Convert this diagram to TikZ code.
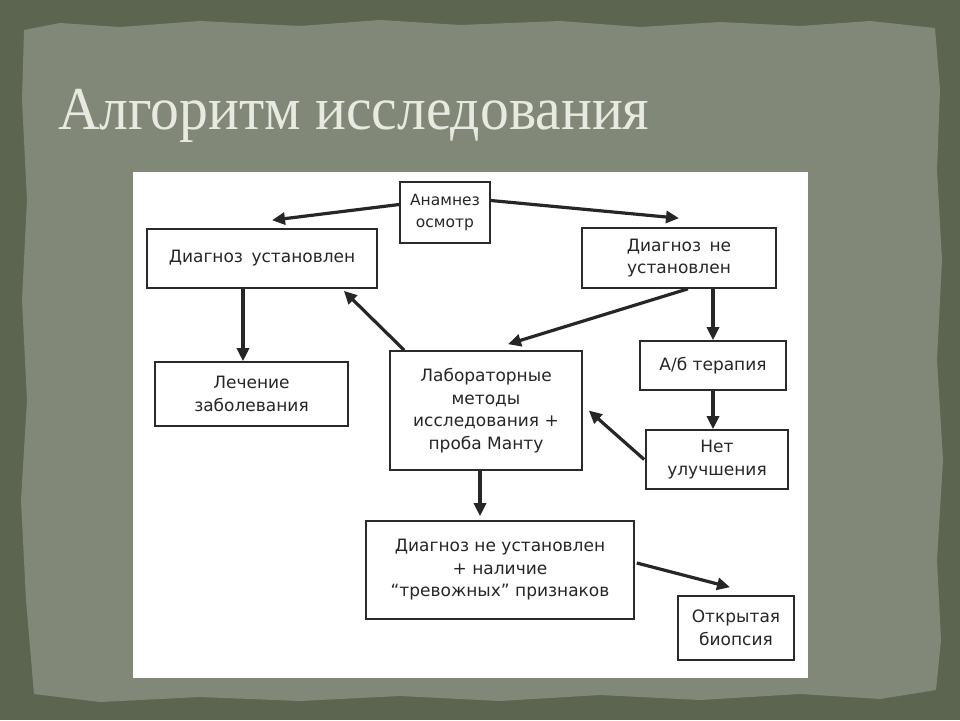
\documentclass[tikz,border=0pt]{standalone}
\usepackage{fontspec}
\setmainfont{DejaVu Sans}
\newfontfamily\titlefont{Liberation Serif}
\usetikzlibrary{arrows.meta,calc}
\definecolor{outerbg}{HTML}{5C654F}
\definecolor{panelbg}{HTML}{828877}
\definecolor{titlecol}{HTML}{E8EAE2}
\definecolor{boxline}{HTML}{2A2A2A}
\begin{document}
\begin{tikzpicture}[x=1pt,y=-1pt,
  fbox/.style={draw=boxline,line width=1.6pt,fill=white,align=center,
    inner sep=0pt,font=\fontsize{17}{22.5}\selectfont,text=black!85},
  arr/.style={draw=black!85,line width=3.2pt,-{Triangle[length=13pt,width=12pt]}}]
\useasboundingbox (0,0) rectangle (960,720);
\fill[outerbg] (0,0) rectangle (960,720);
\fill[panelbg] (24,30) -- (60,23) -- (120,27) -- (200,21) -- (300,26) -- (380,20) -- (460,25)
  -- (560,21) -- (640,27) -- (720,22) -- (800,26) -- (870,21) -- (935,28) -- (940,90)
  -- (937,170) -- (942,260) -- (937,360) -- (943,460) -- (937,560) -- (941,640)
  -- (936,690) -- (880,699) -- (800,694) -- (700,700) -- (600,695) -- (500,701)
  -- (400,696) -- (300,701) -- (200,697) -- (100,702) -- (34,694) -- (26,600)
  -- (21,500) -- (27,400) -- (22,300) -- (27,200) -- (22,100) -- cycle;
\node[anchor=base west,text=titlecol,font=\titlefont\fontsize{61}{64}\selectfont,inner sep=0pt,xscale=0.945]
  (title) at (58,129) {Алгоритм исследования};
\fill[white] (133,172) rectangle (808,678);

\node[fbox,minimum width=90pt,minimum height=61pt,font=\fontsize{15.5}{22}\selectfont] (ana) at (445,212.5) {Анамнез\\осмотр};
\node[fbox,minimum width=230pt,minimum height=59pt] (du) at (262,258.5) {Диагноз\enspace установлен};
\node[fbox,minimum width=194pt,minimum height=60pt] (dnu) at (679,258) {Диагноз\enspace не\\установлен};
\node[fbox,minimum width=193pt,minimum height=64pt] (lech) at (251.5,394) {Лечение\\заболевания};
\node[fbox,minimum width=192pt,minimum height=119pt] (lab) at (486,410.5) {Лабораторные\\методы\\исследования +\\проба Манту};
\node[fbox,minimum width=146pt,minimum height=49pt] (ab) at (713,365.5) {А/б терапия};
\node[fbox,minimum width=142pt,minimum height=59pt] (net) at (717,459.5) {Нет\\улучшения};
\node[fbox,minimum width=268pt,minimum height=98pt] (bot) at (500,570) {Диагноз не установлен\\+ наличие\\“тревожных” признаков};
\node[fbox,minimum width=116pt,minimum height=64pt] (bio) at (736,628) {Открытая\\биопсия};

\draw[arr] ($(ana.west)+(0,-8)$) -- ($(du.north)+(10,-8)$);
\draw[arr] ($(ana.east)+(0,-12)$) -- ($(dnu.north)+(0,-9)$);
\draw[arr] ($(du.south)+(-19,0)$) -- ($(lech.north)+(-8.5,0)$);
\draw[arr] ($(lab.north west)+(15,0)$) -- ($(du.south east)+(-34,2)$);
\draw[arr] ($(dnu.south)+(9,0)$) -- ($(lab.north)+(22,-6)$);
\draw[arr] (ab.north |- dnu.south) -- (ab.north);
\draw[arr] (ab.south) -- (ab.south |- net.north);
\draw[arr] ($(net.west)+(-1,0)$) -- ($(lab.east)+(6,0)$);
\draw[arr] ($(lab.south)+(-6,0)$) -- ($(bot.north)+(-20,-4)$);
\draw[arr] ($(bot.east)+(2,-7)$) -- ($(bio.north)+(-6,-8)$);
\end{tikzpicture}
\end{document}
